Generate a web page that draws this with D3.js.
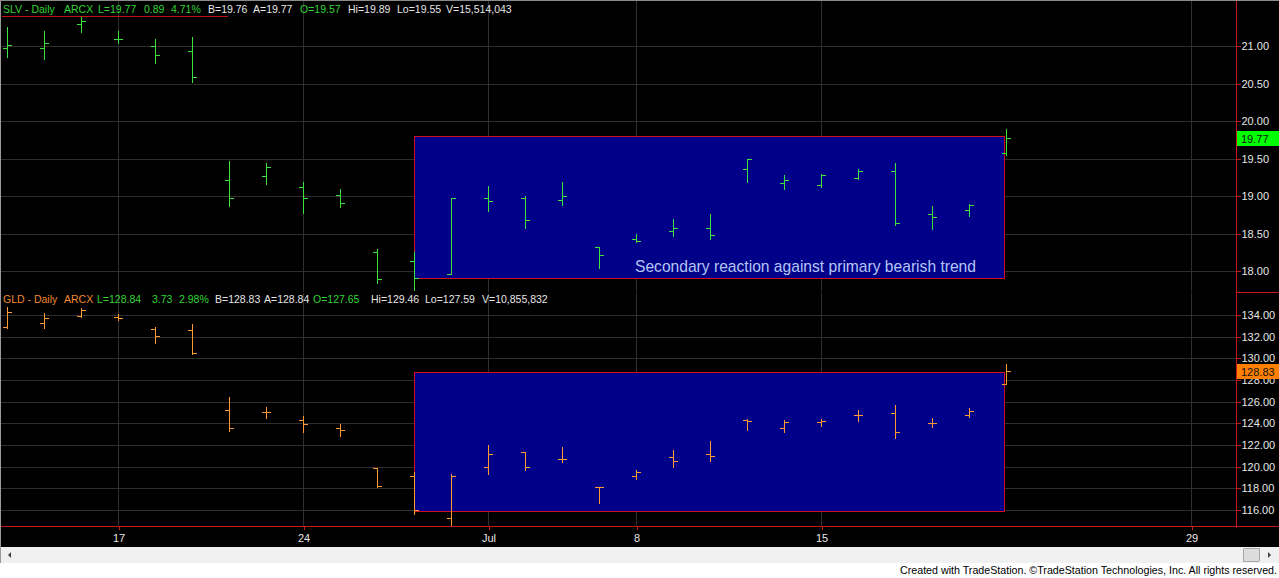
<!DOCTYPE html>
<html><head><meta charset="utf-8">
<script src="https://cdn.jsdelivr.net/npm/d3@7/dist/d3.min.js"></script>
<style>
body{margin:0;background:#fff;overflow:hidden;}
svg{display:block;font-family:Arial,"Liberation Sans",sans-serif;}
</style></head><body>
<svg id="c" width="1279" height="578"></svg>
<script>
// ---------- DATA ----------
const dates = ["2013-06-12","2013-06-13","2013-06-14","2013-06-17","2013-06-18","2013-06-19","2013-06-20","2013-06-21",
  "2013-06-24","2013-06-25","2013-06-26","2013-06-27","2013-06-28","2013-07-01","2013-07-02","2013-07-03","2013-07-05",
  "2013-07-08","2013-07-09","2013-07-10","2013-07-11","2013-07-12","2013-07-15","2013-07-16","2013-07-17","2013-07-18",
  "2013-07-19","2013-07-22","2013-07-23","2013-07-24","2013-07-25","2013-07-26","2013-07-29","2013-07-30"];
const barCount = 28;

const slvOpen  = [20.97,20.97,21.29,21.09,21.00,20.93,19.21,19.27,19.12,19.01,18.25,18.13,17.96,18.97,18.97,18.95,18.32,18.43,18.53,18.57,19.36,19.17,19.15,19.24,19.33,18.76,18.81,19.57];
const slvHigh  = [21.25,21.20,21.40,21.20,21.09,21.12,19.47,19.44,19.19,19.09,18.29,18.25,18.97,19.13,19.00,19.19,18.32,18.49,18.69,18.76,19.49,19.28,19.29,19.36,19.44,18.87,18.89,19.89];
const slvLow   = [20.85,20.83,21.19,21.04,20.77,20.52,18.87,19.16,18.77,18.85,17.84,17.75,17.96,18.80,18.57,18.88,18.04,18.39,18.47,18.43,19.19,19.09,19.12,19.23,18.61,18.56,18.73,19.55];
const slvClose = [21.01,21.04,21.33,21.09,20.88,20.59,18.97,19.39,18.97,18.91,17.89,17.91,18.97,18.93,18.68,19.00,18.21,18.40,18.57,18.48,19.49,19.21,19.28,19.33,18.64,18.72,18.88,19.77];

const gldOpen  = [132.86,133.26,133.91,133.82,132.71,132.62,125.23,125.05,124.31,123.57,119.88,119.14,115.26,119.97,121.35,120.71,118.12,119.14,120.89,121.17,124.31,123.57,124.12,124.77,124.95,124.03,124.77,127.65];
const gldHigh  = [134.77,134.18,134.65,134.09,132.89,133.17,126.43,125.51,124.68,123.94,119.88,119.51,119.32,122.00,121.35,121.82,118.12,119.69,121.54,122.37,124.40,124.31,124.40,125.23,125.69,124.49,125.42,129.46];
const gldLow   = [132.77,132.80,133.82,133.54,131.42,130.40,123.29,124.49,123.20,122.83,118.12,115.63,114.62,119.32,119.69,120.43,116.65,118.86,119.97,120.52,123.38,123.20,123.75,124.22,122.65,123.66,124.58,127.59];
const gldClose = [134.30,133.72,134.46,133.72,132.06,130.49,123.57,125.05,123.94,123.38,118.22,116.00,119.14,121.17,119.97,120.71,118.12,119.51,120.52,120.98,124.22,124.12,124.22,124.77,123.20,124.03,125.14,128.84];

const slvTicks = [18.00,18.50,19.00,19.50,20.00,20.50,21.00];
const gldTicks = [116,118,120,122,124,126,128,130,132,134];
const dateTicks = ["2013-06-17","2013-06-24","2013-07-01","2013-07-08","2013-07-15","2013-07-29"];
const dateTickLabels = ["17","24","Jul","8","15","29"];

const slvMarker = 19.77, gldMarker = 128.83;
const boxDates = ["2013-06-27","2013-07-22"];
const slvBox = [17.91, 19.80];
const gldBox = [115.90, 128.75];
const boxText = "Secondary reaction against primary bearish trend";

const slvHeader = [["SLV - Daily","g1"],["ARCX","g1"],["L=19.77","g1"],["0.89","g1"],["4.71%","g1"],["B=19.76","w"],["A=19.77","w"],["O=19.57","g1"],["Hi=19.89","w"],["Lo=19.55","w"],["V=15,514,043","w"]];
const gldHeader = [["GLD - Daily","o"],["ARCX","o"],["L=128.84","g1"],["3.73","g1"],["2.98%","g1"],["B=128.83","w"],["A=128.84","w"],["O=127.65","g1"],["Hi=129.46","w"],["Lo=127.59","w"],["V=10,855,832","w"]];
const slvHeaderX = [3,64,98,144,171,208,253,300,348,397,446];
const gldHeaderX = [3,64,97,152,179,215,264,313,371,425,482];

// ---------- LAYOUT ----------
const W = 1279, plotL = 1, plotR = 1236;
const top1 = 0, bot1 = 292, top2 = 293, bot2 = 526, axisBot = 547;
const colGreen = "#3ee23e", colOrange = "#ff9933", colHdrGreen = "#33d433", colHdrOrange = "#ee8a2e", colWhite = "#e6e6e6";
const colGrid = "#2e2e2e", colRed = "#c81818";

const svg = d3.select("#c");
svg.append("rect").attr("x",0).attr("y",0).attr("width",W).attr("height",axisBot).attr("fill","#000");

const x = d3.scalePoint().domain(dates).range([7, 7 + 37*(dates.length-1)]);
const ySlv = d3.scaleLinear().domain([18,21]).range([271,46]);
const yGld = d3.scaleLinear().domain([116,134]).range([510,315]);

const g = svg.append("g").attr("shape-rendering","crispEdges");

// gridlines
function grid(yS, ticks, t, b){
  g.append("g").selectAll("line").data(ticks).join("line")
    .attr("x1",plotL).attr("x2",plotR).attr("y1",d=>Math.round(yS(d))+0.5).attr("y2",d=>Math.round(yS(d))+0.5)
    .attr("stroke",colGrid);
  g.append("g").selectAll("line").data(dateTicks).join("line")
    .attr("x1",d=>x(d)+0.5).attr("x2",d=>x(d)+0.5).attr("y1",t).attr("y2",b)
    .attr("stroke",colGrid);
}
grid(ySlv, slvTicks, top1, bot1);
grid(yGld, gldTicks, top2, bot2);

// annotation boxes
function box(yS, rng){
  const x0 = x(boxDates[0]), x1 = x(boxDates[1]);
  g.append("rect").attr("x",x0+0.5).attr("y",Math.round(yS(rng[1]))+0.5)
    .attr("width",x1-x0-2).attr("height",Math.round(yS(rng[0]))-Math.round(yS(rng[1])))
    .attr("fill","#000088").attr("stroke","#d01020").attr("stroke-width",1);
}
box(ySlv, slvBox);
box(yGld, gldBox);

svg.append("text").attr("x",635).attr("y",272).attr("fill","#b4c6f4")
  .attr("font-size","17px").attr("textLength",341).attr("lengthAdjust","spacingAndGlyphs")
  .text(boxText);

// OHLC bars
function bars(yS, O, H, L, C, col){
  const d = d3.range(barCount);
  const gg = g.append("g").attr("stroke",col).attr("stroke-width",1);
  gg.selectAll("line.v").data(d).join("line").attr("class","v")
    .attr("x1",i=>x(dates[i])+0.5).attr("x2",i=>x(dates[i])+0.5)
    .attr("y1",i=>Math.round(yS(H[i]))).attr("y2",i=>Math.round(yS(L[i]))+1);
  gg.selectAll("line.o").data(d).join("line").attr("class","o")
    .attr("x1",i=>x(dates[i])-4).attr("x2",i=>x(dates[i])+1)
    .attr("y1",i=>Math.round(yS(O[i]))+0.5).attr("y2",i=>Math.round(yS(O[i]))+0.5);
  gg.selectAll("line.c").data(d).join("line").attr("class","c")
    .attr("x1",i=>x(dates[i])).attr("x2",i=>x(dates[i])+5)
    .attr("y1",i=>Math.round(yS(C[i]))+0.5).attr("y2",i=>Math.round(yS(C[i]))+0.5);
}
bars(ySlv, slvOpen, slvHigh, slvLow, slvClose, colGreen);
bars(yGld, gldOpen, gldHigh, gldLow, gldClose, colOrange);

// right price axes
function priceAxis(yS, ticks, fmt){
  const a = svg.append("g").attr("transform",`translate(${plotR+0.5},0)`)
    .call(d3.axisRight(yS).tickValues(ticks).tickFormat(fmt).tickSize(4).tickPadding(1));
  a.select(".domain").remove();
  a.selectAll(".tick line").attr("stroke",colRed).attr("shape-rendering","crispEdges");
  a.selectAll(".tick text").attr("fill",colWhite).attr("font-size","11px").attr("font-family","Arial, 'Liberation Sans', sans-serif");
}
priceAxis(ySlv, slvTicks, d3.format(".2f"));
priceAxis(yGld, gldTicks, d3.format(".2f"));

// price markers
function marker(yS, v, fill, txt){
  const cy = Math.round(yS(v));
  svg.append("rect").attr("x",plotR+1).attr("y",cy-7).attr("width",W-plotR-1).attr("height",15).attr("fill",fill);
  svg.append("text").attr("x",plotR+5).attr("y",cy+4.5).attr("font-size","11px").attr("fill","#111").text(txt);
}
marker(ySlv, slvMarker, "#00ff00", d3.format(".2f")(slvMarker));
marker(yGld, gldMarker, "#ff8000", d3.format(".2f")(gldMarker));

// frame lines
const fr = svg.append("g").attr("shape-rendering","crispEdges");
fr.append("line").attr("x1",plotR+0.5).attr("x2",plotR+0.5).attr("y1",0).attr("y2",bot2+2).attr("stroke",colRed);
fr.append("line").attr("x1",plotR).attr("x2",W).attr("y1",bot1+0.5).attr("y2",bot1+0.5).attr("stroke",colRed);
fr.append("line").attr("x1",0).attr("x2",W).attr("y1",bot2+0.5).attr("y2",bot2+0.5).attr("stroke",colRed);
fr.append("line").attr("x1",0.5).attr("x2",0.5).attr("y1",0).attr("y2",563).attr("stroke","#9a9a9a");
fr.append("line").attr("x1",0).attr("x2",W).attr("y1",0.5).attr("y2",0.5).attr("stroke","#8a8a8a");

// date axis
const da = svg.append("g").attr("transform",`translate(0.5,${bot2})`)
  .call(d3.axisBottom(x).tickValues(dateTicks).tickFormat((d)=>dateTickLabels[dateTicks.indexOf(d)]).tickSize(4).tickPadding(4));
da.select(".domain").remove();
da.selectAll(".tick line").attr("stroke",colRed).attr("shape-rendering","crispEdges");
da.selectAll(".tick text").attr("fill",colWhite).attr("font-size","11px").attr("font-family","Arial, 'Liberation Sans', sans-serif");

// headers
function header(items, xs, y, underline){
  const t = svg.append("text").attr("y",y).attr("font-size","10.5px");
  items.forEach((it,i)=>{
    t.append("tspan").attr("x",xs[i]).attr("fill", it[1]==="g1"?colHdrGreen:(it[1]==="o"?colHdrOrange:colWhite)).text(it[0]);
  });
  if(underline){
    svg.append("line").attr("x1",2).attr("x2",underline).attr("y1",16.5).attr("y2",16.5).attr("stroke","#c01010").attr("shape-rendering","crispEdges");
  }
}
header(slvHeader, slvHeaderX, 13, 228);
header(gldHeader, gldHeaderX, 303, null);

// scrollbar
const sb = svg.append("g").attr("shape-rendering","crispEdges");
sb.append("rect").attr("x",1).attr("y",axisBot).attr("width",W-1).attr("height",16).attr("fill","#f0f0f0");
sb.append("path").attr("d",`M8,${axisBot+8} L11,${axisBot+5} L11,${axisBot+11} Z`).attr("fill","#444").attr("shape-rendering","auto");
sb.append("path").attr("d",`M1271,${axisBot+8} L1268,${axisBot+5} L1268,${axisBot+11} Z`).attr("fill","#444").attr("shape-rendering","auto");
sb.append("rect").attr("x",1243.5).attr("y",axisBot+1.5).attr("width",16).attr("height",13).attr("rx",1.5)
  .attr("fill","#dcdcdc").attr("stroke","#a8a8a8");

// credit
svg.append("text").attr("x",W-2).attr("y",574).attr("text-anchor","end").attr("font-size","11px").attr("fill","#000")
  .attr("textLength",377).attr("lengthAdjust","spacingAndGlyphs")
  .text("Created with TradeStation. ©TradeStation Technologies, Inc. All rights reserved.");
</script>
</body></html>
